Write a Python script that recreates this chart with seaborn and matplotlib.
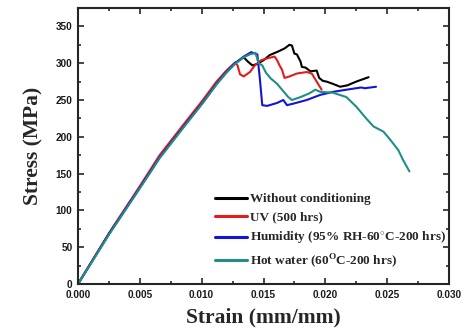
import matplotlib
matplotlib.use("Agg")
import matplotlib.pyplot as plt
import seaborn as sns
import pandas as pd
from matplotlib.ticker import MultipleLocator
from matplotlib.lines import Line2D

sns.set_style("ticks")
plt.rcParams['font.family'] = ['Liberation Sans', 'DejaVu Sans']
plt.rcParams['mathtext.fontset'] = 'custom'
plt.rcParams['mathtext.rm'] = 'Liberation Serif:bold'
plt.rcParams['mathtext.bf'] = 'Liberation Serif:bold'

labels = ["Without conditioning",
          "UV (500 hrs)",
          "Humidity (95% RH-60$^{\\circ}$C-200 hrs)",
          "Hot water (60$^{\\mathrm{O}}$C-200 hrs)"]

black_x = [0, 0.0025, 0.005, 0.0066, 0.0085, 0.0101, 0.0112, 0.0120, 0.0127, 0.0134, 0.01375, 0.0141,
           0.0145, 0.0150, 0.0155, 0.0162, 0.0167, 0.0171, 0.0173, 0.0175, 0.0177, 0.0180, 0.0181,
           0.0184, 0.0188, 0.0193, 0.0195, 0.0198, 0.0201, 0.0206, 0.0212, 0.0218, 0.0225, 0.0230, 0.0235]
black_y = [0, 68, 131, 172, 213, 247, 272, 288, 300, 308, 302, 297,
           299, 304, 311, 316, 320, 325, 324, 313, 312, 302, 295,
           294, 289, 290, 280, 276, 275, 272, 268, 270, 275, 278, 281]

red_x = [0, 0.0025, 0.005, 0.0066, 0.0085, 0.0101, 0.0112, 0.0120, 0.0127, 0.0129, 0.0131, 0.0134,
         0.0139, 0.0143, 0.0148, 0.0154, 0.0159, 0.0161, 0.0163, 0.0165, 0.0167, 0.0171, 0.0177,
         0.0185, 0.0189, 0.0193, 0.0197]
red_y = [0, 69, 133, 175, 216, 250, 275, 290, 301, 297, 285, 282,
         288, 297, 304, 307, 309, 304, 297, 291, 280, 282, 286,
         288, 286, 275, 264]

blue_x = [0, 0.0025, 0.005, 0.0066, 0.0085, 0.0101, 0.0112, 0.0120, 0.0127, 0.0134, 0.0140, 0.0145,
          0.0147, 0.0149, 0.0153, 0.0161, 0.0166, 0.0169, 0.0174, 0.0185, 0.0196, 0.0206, 0.0217,
          0.0229, 0.0232, 0.0241]
blue_y = [0, 68, 131, 172, 213, 247, 272, 288, 300, 309, 315, 312,
          280, 243, 242, 246, 250, 243, 245, 250, 257, 261, 264,
          267, 266, 268]

teal_x = [0, 0.0025, 0.005, 0.0066, 0.0085, 0.0101, 0.0112, 0.0120, 0.0127, 0.0134, 0.0139, 0.01435,
          0.0146, 0.0149, 0.0152, 0.0156, 0.0161, 0.0166, 0.0170, 0.0173, 0.0180, 0.0187, 0.0192,
          0.0196, 0.0206, 0.0217, 0.0225, 0.0233, 0.0239, 0.0247, 0.0252, 0.0259, 0.0263, 0.0268]
teal_y = [0, 67, 130, 171, 212, 246, 271, 287, 299, 308, 312, 314,
          300, 297, 287, 279, 272, 262, 254, 250, 254, 259, 264,
          261, 260, 254, 241, 225, 214, 207, 197, 182, 168, 153]

colors = ["#000000", "#e41a1c", "#1414d8", "#1f8f86"]

frames = []
for lab, xs, ys in zip(labels, [black_x, red_x, blue_x, teal_x], [black_y, red_y, blue_y, teal_y]):
    frames.append(pd.DataFrame({"strain": xs, "stress": ys, "cond": lab}))
df = pd.concat(frames, ignore_index=True)

fig = plt.figure(figsize=(4.65, 3.35), dpi=100)
ax = fig.add_axes([78/465, 1-284/335, (449-78)/465, (284-8)/335])

sns.lineplot(data=df, x="strain", y="stress", hue="cond", hue_order=labels,
             palette=dict(zip(labels, colors)), sort=False, estimator=None,
             linewidth=1.5, ax=ax, legend=False)

ax.set_xlim(0, 0.030)
ax.set_ylim(0, 375)
ax.xaxis.set_minor_locator(MultipleLocator(0.0025))
ax.yaxis.set_minor_locator(MultipleLocator(25))
ax.set_xticks([0, 0.005, 0.010, 0.015, 0.020, 0.025, 0.030])
ax.set_xticklabels(["0.000", "0.005", "0.010", "0.015", "0.020", "0.025", "0.030"])
ax.set_yticks([0, 50, 100, 150, 200, 250, 300, 350])
ax.tick_params(which='both', direction='in', top=True, right=True, width=1.2)
ax.tick_params(which='major', length=4, labelsize=7.2)
ax.tick_params(axis='x', which='major', pad=4)
ax.tick_params(axis='y', which='major', pad=4)
ax.tick_params(which='minor', length=2.2)
for lab in ax.get_xticklabels() + ax.get_yticklabels():
    lab.set_fontweight('bold')
    lab.set_color('#1a1a1a')
for sp in ax.spines.values():
    sp.set_linewidth(1.5)
    sp.set_visible(True)

ax.set_xlabel("Strain (mm/mm)", family="Liberation Serif", fontweight="bold", fontsize=15.5, labelpad=6)
ax.set_ylabel("Stress (MPa)", family="Liberation Serif", fontweight="bold", fontsize=15.5, labelpad=9)

handles = [Line2D([], [], color=c, linewidth=2.2) for c in colors]
leg = ax.legend(handles, labels, loc="upper left", bbox_to_anchor=(215/465, 1-193/335),
                bbox_transform=fig.transFigure, frameon=False, borderpad=0, borderaxespad=0,
                handlelength=2.4, handletextpad=0.25, labelspacing=0.45,
                prop={"family": "Liberation Serif", "weight": "bold", "size": 9.5})

fig.savefig("out.png", dpi=100)
